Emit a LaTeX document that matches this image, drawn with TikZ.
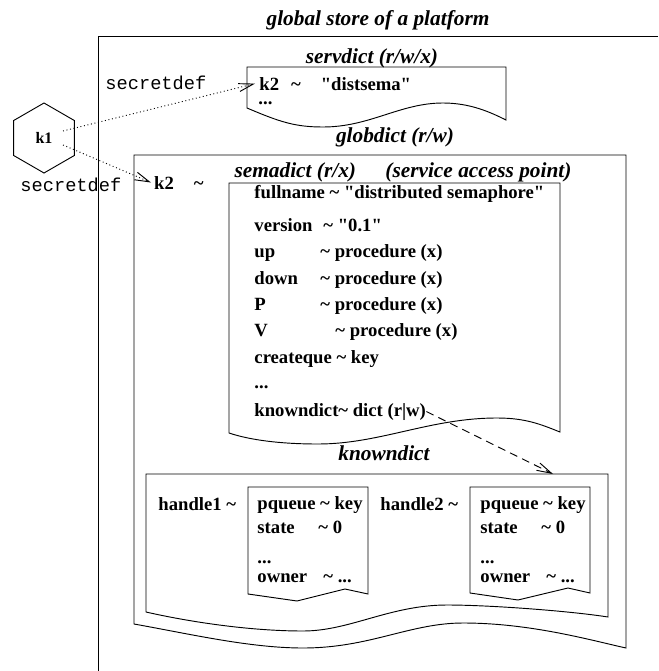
\documentclass[tikz,border=0pt]{standalone}
\usepackage{fontspec}
\setmainfont{Liberation Serif}[Ligatures=TeXOff]
\setmonofont{Liberation Mono}
\usetikzlibrary{shapes.geometric,arrows.meta}

\newcommand{\tildesym}{\textasciitilde}

\begin{document}
\begin{tikzpicture}[x=0.75pt,y=-0.75pt,line width=0.7pt,
field/.style={anchor=base west,inner sep=0pt,font=\fontsize{14}{16}\selectfont\bfseries},
dicttitle/.style={anchor=base,inner sep=0pt,font=\fontsize{16}{18}\selectfont\bfseries\itshape},
secret/.style={anchor=base west,inner sep=0pt,font=\fontsize{14}{16}\selectfont\ttfamily},
keynode/.style={draw,regular polygon,regular polygon sides=6,shape border rotate=30,minimum size=52.5pt,inner sep=0pt,font=\fontsize{12}{14}\selectfont\bfseries},
keyarrow/.style={dotted,-{Straight Barb[length=11pt,width=6pt]}},
dictptr/.style={dash pattern=on 6pt off 4pt,-{Straight Barb[length=11pt,width=6pt]}}] % all sizes in px of the sketch, y runs down
\useasboundingbox (0,0) rectangle (658,671);

% the global store and its dictionaries
\draw (658,36) -| (98,671);
\draw (247,108) -- (247,67) -- (506,67) -- (506,120) .. controls (490,112) and (470,103) .. (443,103) .. controls (400,103) and (370,127) .. (323,127) .. controls (295,127) and (280,122) .. cycle; % servdict
\draw (134,624) -- (134,155) -- (626,155) -- (626,648) .. controls (590,640) and (530,623) .. (463,623) .. controls (410,623) and (370,648) .. (303,648) .. controls (250,648) and (190,634) .. cycle; % globdict
\draw (229,433) -- (229,183) -- (560,183) -- (560,432) .. controls (540,424) and (525,418) .. (497,418) .. controls (430,418) and (380,444) .. (318,444) .. controls (280,444) and (250,440) .. cycle; % semadict
\draw (146,612) -- (146,474) -- (608,474) -- (608,617) .. controls (570,611) and (490,605) .. (447,605) .. controls (390,605) and (350,631) .. (303,631) .. controls (250,631) and (190,622) .. cycle; % knowndict
\draw (248,594) -- (248,487) -- (368,487) -- (368,594) -- (345,589) -- (297,601) -- cycle; % handle1
\draw (470,593) -- (470,487) -- (590,487) -- (590,593) -- (568,588) -- (518,600) -- cycle; % handle2

\node[dicttitle](store) at (378,25){global store of a platform};
\node[dicttitle](servtitle) at (372,63){servdict (r/w/x)};
\node[dicttitle](globtitle) at (395,142){globdict (r/w)};
\node[dicttitle](sematitle) at (403,177){semadict (r/x)\hspace{22pt}(service access point)};
\node[dicttitle](knowntitle) at (384,460){knowndict};

% the key k1 and where it points
\node[keynode](k1) at (44,138){k1};
\node[secret](sd1) at (105,89){secretdef};
\node[secret](sd2) at (20,191){secretdef};
\node[field,inner xsep=3pt](k2a) at (255,90){k2\hspace{9pt}\tildesym\hspace{15pt}"distsema"};
\node[field](dotsa) at (258,104){...};
\node[field,inner xsep=2pt](k2b) at (151,189){k2\hspace{15pt}\tildesym};
\coordinate (k1up) at (63,131);
\coordinate (k1down) at (63,145);
\path (k1up) edge[keyarrow] (k2a.west);
\path (k1down) edge[keyarrow] (k2b.west);

% semadict entries
\node[field](fullname) at (254,198){fullname \tildesym{} "distributed semaphore"};
\node[field](version) at (254,231){\makebox[51.75pt][l]{version}\tildesym{} "0.1"};
\node[field](up) at (254,257){\makebox[49.5pt][l]{up}\tildesym{} procedure (x)};
\node[field](down) at (254,284){\makebox[49.5pt][l]{down}\tildesym{} procedure (x)};
\node[field](P) at (254,310){\makebox[49.5pt][l]{P}\tildesym{} procedure (x)};
\node[field](V) at (254,336){\makebox[60.75pt][l]{V}\tildesym{} procedure (x)};
\node[field](createque) at (254,363){createque \tildesym{} key};
\node[field](dotsb) at (254,388){...};
\node[field](kd) at (254,416){knowndict\tildesym{} dict (r|w)};
\coordinate (kdtop) at (553,474);
\path (kd.east) edge[dictptr] (kdtop);

% knowndict entries
\node[field](handle1) at (158,510){handle1 \tildesym};
\node[field](pqueue1) at (257,509){pqueue \tildesym{} key};
\node[field](state1) at (257,533){\makebox[45.75pt][l]{state}\tildesym{} 0};
\node[field](dots1) at (257,563){...};
\node[field](owner1) at (257,582){\makebox[49.5pt][l]{owner}\tildesym{} ...};
\node[field](handle2) at (380,510){handle2 \tildesym};
\node[field](pqueue2) at (480,509){pqueue \tildesym{} key};
\node[field](state2) at (480,533){\makebox[45.75pt][l]{state}\tildesym{} 0};
\node[field](dots2) at (480,563){...};
\node[field](owner2) at (480,582){\makebox[49.5pt][l]{owner}\tildesym{} ...};

\end{tikzpicture}
\end{document}
